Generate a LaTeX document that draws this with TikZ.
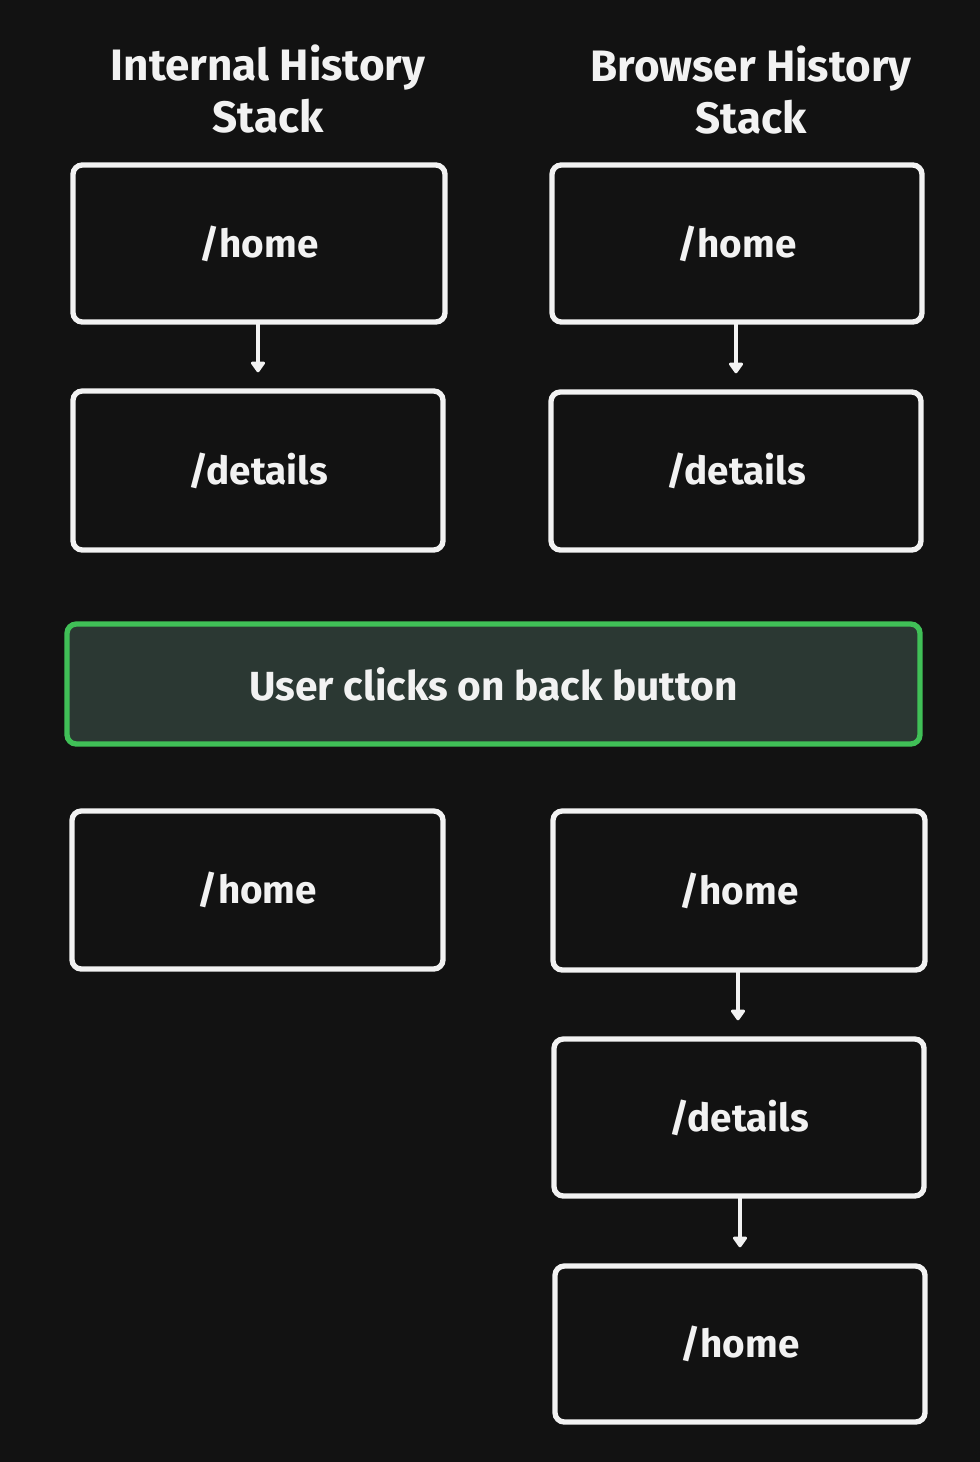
\documentclass[tikz,border=0pt]{standalone}
\usepackage{fontspec}
\setmainfont{Fira Sans}
\usetikzlibrary{arrows.meta}
\definecolor{bg}{HTML}{121212}
\definecolor{fg}{HTML}{F2F2F2}
\definecolor{gfill}{HTML}{2B3833}
\definecolor{gline}{HTML}{40C057}
\tikzset{
  pagebox/.style={draw=fg, line width=4pt, rounded corners=7pt, fill=bg},
  pagetext/.style={text=fg, font=\fontsize{29}{34}\selectfont\bfseries},
  bannertext/.style={text=fg, font=\fontsize{30.5}{34}\selectfont\bfseries},
  titletext/.style={text=fg, font=\fontsize{33}{39}\selectfont\bfseries, align=center},
  link/.style={draw=fg, line width=3.5pt, -{Triangle[width=12pt,length=9pt,round]}}
}
\begin{document}
\begin{tikzpicture}[x=0.75pt,y=-0.75pt]
\fill[bg] (0,0) rectangle (980,1462);
\useasboundingbox (0,0) rectangle (980,1462);
% titles
\node[titletext] (t1) at (268,89) {Internal History\\Stack};
\node[titletext] (t2) at (751,90) {Browser History\\Stack};
% boxes left
\draw[pagebox] (73,165) rectangle (445,322);
\node[pagetext] (l1) at (259,243.5) {/home};
\coordinate (l1b) at (258,322);
\draw[pagebox] (73,391) rectangle (443,550);
\node[pagetext] (l2) at (258,470.5) {/details};
\coordinate (l2t) at (258,391);
\draw[pagebox] (72,811) rectangle (443,969);
\node[pagetext] (l3) at (257.5,890) {/home};
% boxes right
\draw[pagebox] (552,165) rectangle (922,322);
\node[pagetext] (r1) at (737,243.5) {/home};
\coordinate (r1b) at (736,322);
\draw[pagebox] (551,392) rectangle (921,550);
\node[pagetext] (r2) at (736,471) {/details};
\coordinate (r2t) at (736,392);
\draw[pagebox] (553,811) rectangle (925,970);
\node[pagetext] (r3) at (739,890.5) {/home};
\coordinate (r3b) at (738,970);
\draw[pagebox] (554,1039) rectangle (924,1196);
\node[pagetext] (r4) at (739,1117.5) {/details};
\coordinate (r4t) at (738,1039);
\coordinate (r4b) at (740,1196);
\draw[pagebox] (555,1266) rectangle (925,1422);
\node[pagetext] (r5) at (740,1344) {/home};
\coordinate (r5t) at (740,1266);
% green banner
\draw[draw=gline, fill=gfill, line width=4pt, rounded corners=7pt] (67,624) rectangle (920,744);
\node[bannertext] (g) at (493.5,684) {User clicks on back button};
% arrows
\draw[link] (l1b) -- ([yshift=14pt]l2t);
\draw[link] (r1b) -- ([yshift=14pt]r2t);
\draw[link] (r3b) -- ([yshift=14pt]r4t);
\draw[link] (r4b) -- ([yshift=14pt]r5t);
\end{tikzpicture}
\end{document}
